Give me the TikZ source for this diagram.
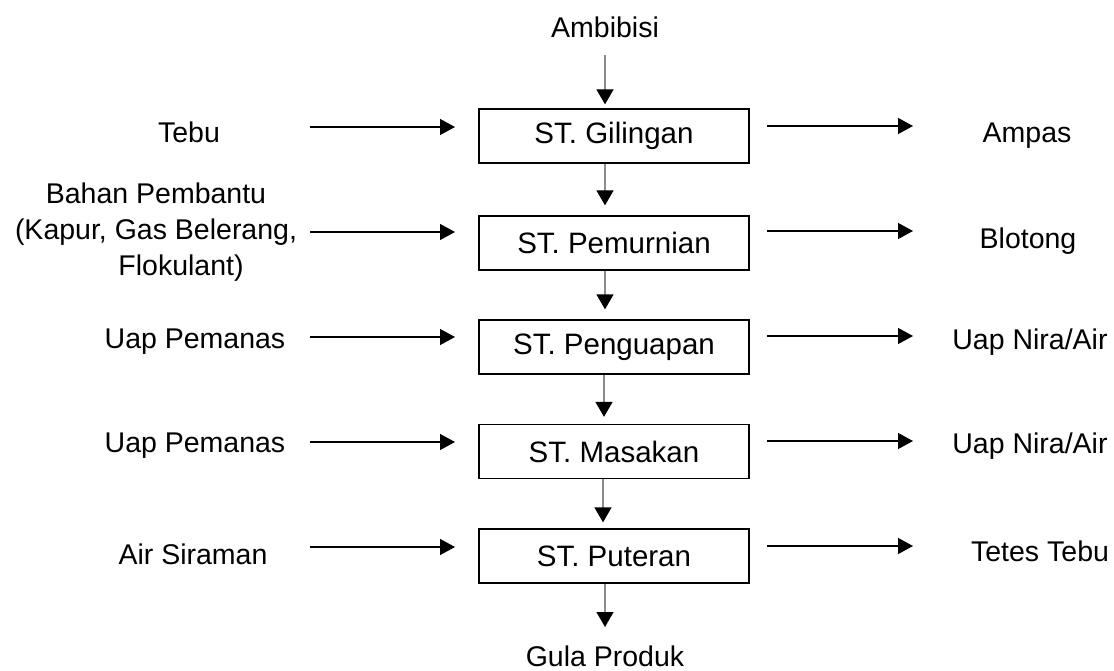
\documentclass[tikz,border=0pt]{standalone}
\usepackage{fontspec}
\setmainfont{Liberation Sans}
\usetikzlibrary{arrows.meta,calc}
\begin{document}
\begin{tikzpicture}[x=1pt,y=-1pt,
  stationbox/.style={draw,line width=1.3pt,minimum width=270pt,minimum height=54pt,inner sep=0pt,font=\fontsize{29.5}{35}\selectfont},
  lbl/.style={font=\fontsize{28.5}{36}\selectfont,inner sep=0pt,align=center},
  harrow/.style={line width=1.3pt,-{Triangle[length=15pt,width=16pt]}},
  varrow/.style={line width=1.3pt,draw=black!45,-{Triangle[length=15pt,width=17pt,color=black]}},
]
\useasboundingbox (0,0) rectangle (1114,671);

% stations
\node[stationbox] (gil) at (614,136) {ST. Gilingan};
\node[stationbox] (pem) at (614,243) {ST. Pemurnian};
\node[stationbox] (peng) at (614,347) {ST. Penguapan};
\node[stationbox] (mas) at (614,451.5) {ST. Masakan};
\node[stationbox] (put) at (614,556) {ST. Puteran};

% top / bottom labels
\node[lbl] (amb) at (605,27) {Ambibisi};
\node[lbl] (gula) at (605,656) {Gula Produk};

% left labels
\node[lbl] (tebu) at (189,132) {Tebu};
\node[lbl] (bahan) at (156,232) {Bahan Pembantu\\(Kapur, Gas Belerang,\\\hspace*{50pt}Flokulant)};
\node[lbl] (uap1) at (195,342) {Uap Pemanas};
\node[lbl] (uap2) at (195,446) {Uap Pemanas};
\node[lbl] (air) at (193,554) {Air Siraman};

% right labels
\node[lbl] (ampas) at (1027,136) {Ampas};
\node[lbl] (blot) at (1028,241) {Blotong};
\node[lbl] (nira1) at (1030,342) {Uap Nira/Air};
\node[lbl] (nira2) at (1030,446) {Uap Nira/Air};
\node[lbl] (tetes) at (1040,551) {Tetes Tebu};

% arrow end coordinates (left inputs)
\coordinate (l1s) at (310,127); \coordinate (l1e) at (455,127);
\coordinate (l2s) at (310,232); \coordinate (l2e) at (455,232);
\coordinate (l3s) at (310,337); \coordinate (l3e) at (455,337);
\coordinate (l4s) at (310,442); \coordinate (l4e) at (455,442);
\coordinate (l5s) at (310,547); \coordinate (l5e) at (455,547);
% right outputs
\coordinate (r1s) at (767,126); \coordinate (r1e) at (913,126);
\coordinate (r2s) at (767,231); \coordinate (r2e) at (913,231);
\coordinate (r3s) at (767,336); \coordinate (r3e) at (913,336);
\coordinate (r4s) at (767,441); \coordinate (r4e) at (913,441);
\coordinate (r5s) at (767,546); \coordinate (r5e) at (913,546);

\foreach \i in {1,...,5}{
  \draw[harrow] (l\i s) -- (l\i e);
  \draw[harrow] (r\i s) -- (r\i e);
}

% vertical flow
\draw[varrow] ([xshift=-9pt]gil.north |- 0,55) -- ([xshift=-9pt,yshift=4pt]gil.north);
\draw[varrow] ([xshift=-9pt]gil.south) -- ([xshift=-9pt,yshift=10pt]pem.north);
\draw[varrow] ([xshift=-9pt]pem.south) -- ([xshift=-9pt,yshift=10pt]peng.north);
\draw[varrow] ([xshift=-10pt]peng.south) -- ([xshift=-10pt,yshift=7pt]mas.north);
\draw[varrow] ([xshift=-11pt]mas.south) -- ([xshift=-11pt,yshift=6pt]put.north);
\draw[varrow] ([xshift=-9pt]put.south) -- ([xshift=-9pt]put.south |- 0,627);
\end{tikzpicture}
\end{document}
